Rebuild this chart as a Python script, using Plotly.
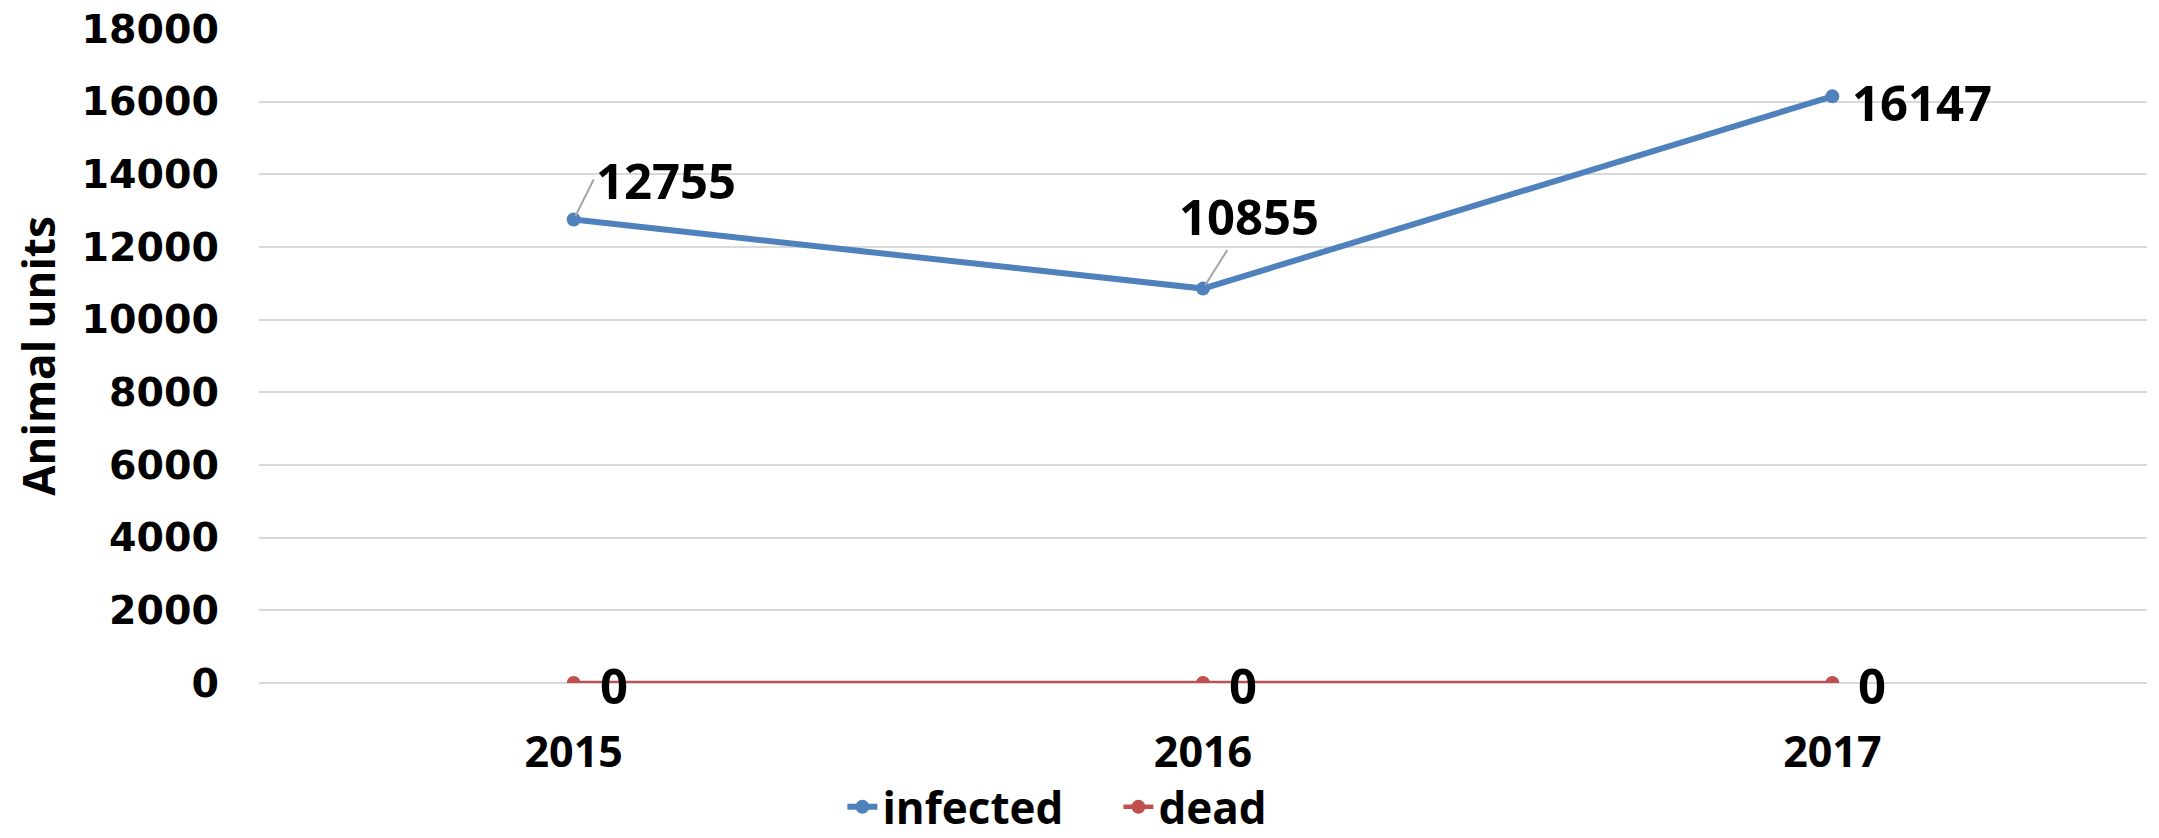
import plotly.graph_objects as go

years = ["2015", "2016", "2017"]
infected = [12755, 10855, 16147]
dead = [0, 0, 0]
y_ticks = [0, 2000, 4000, 6000, 8000, 10000, 12000, 14000, 16000, 18000]

BLUE = "#4f81bd"
RED = "#c0504d"
LABEL_FONT = dict(family="Open Sans", size=49, color="black", weight="bold")

fig = go.Figure()
fig.add_trace(go.Scatter(x=years, y=infected, name="infected", mode="lines+markers",
                         line=dict(color=BLUE, width=6), marker=dict(size=14, color=BLUE)))
fig.add_trace(go.Scatter(x=years, y=dead, name="dead", mode="lines+markers",
                         line=dict(color=RED, width=4.5), marker=dict(size=14, color=RED)))

# data labels for infected: (xanchor, dx, dy, leader) offsets in px
inf_offsets = [("left", 20, -40, True), ("center", 46, -73, True), ("center", 90, -6, False)]
for i, (yv, (anc, dx, dy, leader)) in enumerate(zip(infected, inf_offsets)):
    if leader:
        fig.add_annotation(x=i, y=yv, xref="x", yref="y", text=str(yv), showarrow=True,
                           ax=dx, ay=dy, xanchor=anc, arrowhead=0, arrowwidth=2,
                           arrowcolor="#a6a6a6", standoff=4, font=LABEL_FONT)
    else:
        fig.add_annotation(x=i, y=yv, xref="x", yref="y", text=str(yv), showarrow=False,
                           xshift=dx, yshift=dy, font=LABEL_FONT)
for i, yv in enumerate(dead):
    fig.add_annotation(x=i, y=yv, xref="x", yref="y", text=str(yv), showarrow=False,
                       xshift=40, yshift=-2, font=LABEL_FONT)

fig.update_layout(
    width=2159, height=838,
    margin=dict(l=251, r=20, t=21, b=163, autoexpand=False),
    plot_bgcolor="white", paper_bgcolor="white",
    showlegend=True,
    legend=dict(orientation="h", x=0.309, xanchor="left", y=-0.19, yanchor="middle",
                font=dict(family="Open Sans", size=44, color="black", weight="bold"),
                entrywidth=231, entrywidthmode="pixels", tracegroupgap=0),
    xaxis=dict(type="category", range=[-0.5, 2.5], showgrid=False, showline=False,
               zeroline=False, ticks="", ticklabelstandoff=40, automargin=False,
               tickfont=dict(family="Open Sans", size=43, color="black", weight="bold")),
    yaxis=dict(range=[0, 18000], tickvals=y_ticks, tickformat="d", showgrid=True,
               gridcolor="#d9d9d9", gridwidth=2, zeroline=True, zerolinecolor="#d9d9d9",
               zerolinewidth=2, showline=False, ticks="", ticklabelstandoff=39,
               ticklabeloverflow="allow", automargin=False,
               tickfont=dict(family="DejaVu Sans", size=39.5, color="black", weight="bold"),
               title=dict(text="Animal units", standoff=34,
                          font=dict(family="Open Sans", size=44, color="black", weight="bold"))),
)

fig.write_html("out.html")
